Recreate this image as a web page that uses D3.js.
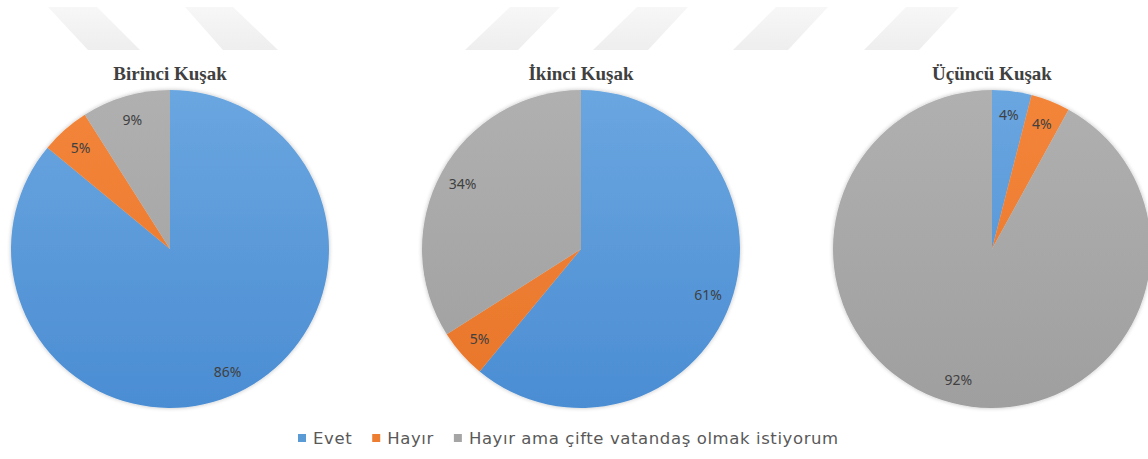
<!DOCTYPE html>
<html>
<head>
<meta charset="utf-8">
<script src="https://cdn.jsdelivr.net/npm/d3@7"></script>
<style>
  html, body { margin: 0; padding: 0; background: #ffffff; }
  svg { display: block; }
</style>
</head>
<body>
<svg id="chart" width="1148" height="459"></svg>
<script>
// ---- Data ----
const categories = ["Evet", "Hayır", "Hayır ama çifte vatandaş olmak istiyorum"];
const pieTitles = ["Birinci Kuşak", "İkinci Kuşak", "Üçüncü Kuşak"];
const birinciValues = [86, 5, 9];
const ikinciValues = [61, 5, 34];
const ucuncuValues = [4, 4, 92];
const seriesValues = [birinciValues, ikinciValues, ucuncuValues];

// ---- Layout ----
const W = 1148, H = 459;
const svg = d3.select("#chart");
const radius = 159;
const centerY = 249;
const centerX = d3.scalePoint().domain(pieTitles).range([170, 992]);

const colors = ["#5b9bd5", "#ed7d31", "#a5a5a5"];
const gradStops = [["#6aa6e0", "#4b8dd3"], ["#f3853a", "#e8762a"], ["#b0b0b0", "#9f9f9f"]];
const color = d3.scaleOrdinal().domain(categories).range(colors);

const defs = svg.append("defs");
categories.forEach((c, i) => {
  const g = defs.append("linearGradient")
    .attr("id", "grad" + i)
    .attr("gradientUnits", "userSpaceOnUse")
    .attr("x1", 0).attr("x2", 0).attr("y1", -radius).attr("y2", radius);
  g.append("stop").attr("offset", "0%").attr("stop-color", gradStops[i][0]);
  g.append("stop").attr("offset", "100%").attr("stop-color", gradStops[i][1]);
});
const wm = defs.append("linearGradient").attr("id", "wmgrad")
  .attr("x1", 0).attr("x2", 0).attr("y1", 0).attr("y2", 1);
wm.append("stop").attr("offset", "0%").attr("stop-color", "#f7f7f7");
wm.append("stop").attr("offset", "100%").attr("stop-color", "#eeeeee");
const sh = defs.append("filter").attr("id", "soft").attr("x", "-10%").attr("y", "-10%").attr("width", "120%").attr("height", "120%");
sh.append("feGaussianBlur").attr("in", "SourceAlpha").attr("stdDeviation", 2).attr("result", "b");
sh.append("feComponentTransfer").attr("in", "b").attr("result", "s")
  .append("feFuncA").attr("type", "linear").attr("slope", 0.25);
const m = sh.append("feMerge");
m.append("feMergeNode").attr("in", "s");
m.append("feMergeNode").attr("in", "SourceGraphic");

// ---- Watermark (background decoration) ----
const wmShapes = [
  [[48, 7], [97, 7], [140, 50], [88, 50]],
  [[185, 7], [233, 7], [278, 50], [223, 50]],
  [[510, 7], [560, 7], [518, 50], [465, 50]],
  [[637, 7], [688, 7], [648, 50], [593, 50]],
  [[776, 7], [828, 7], [788, 50], [733, 50]],
  [[906, 7], [959, 7], [919, 50], [864, 50]]
];
svg.append("g").selectAll("path").data(wmShapes).join("path")
  .attr("d", d => "M" + d.map(p => p.join(",")).join("L") + "Z")
  .attr("fill", "url(#wmgrad)");

// ---- Pies ----
const pie = d3.pie().sort(null).value(d => d);
const arc = d3.arc().innerRadius(0).outerRadius(radius);
const labelArc = d3.arc().innerRadius(radius * 0.85).outerRadius(radius * 0.85);

pieTitles.forEach((title, pi) => {
  const g = svg.append("g").attr("transform", `translate(${centerX(title)},${centerY})`);
  const arcs = pie(seriesValues[pi]);
  g.append("g").attr("filter", "url(#soft)")
    .selectAll("path").data(arcs).join("path")
    .attr("d", arc)
    .attr("fill", (d, i) => `url(#grad${i})`);
  g.selectAll("text.lbl").data(arcs).join("text")
    .attr("class", "lbl")
    .attr("transform", d => `translate(${labelArc.centroid(d)})`)
    .attr("text-anchor", "middle")
    .attr("dominant-baseline", "central")
    .attr("font-family", "'Noto Sans', 'Open Sans', sans-serif")
    .attr("font-size", 14)
    .attr("fill", "#404040")
    .text(d => d.data + "%");
  svg.append("text")
    .attr("x", centerX(title))
    .attr("y", 80)
    .attr("text-anchor", "middle")
    .attr("font-family", "'Liberation Serif', 'Times New Roman', serif")
    .attr("font-weight", "bold")
    .attr("font-size", 19)
    .attr("fill", "#404040")
    .text(title);
});

// ---- Legend ----
const legend = svg.append("g").attr("transform", "translate(298,438)");
let lx = 0;
categories.forEach((c, i) => {
  const lg = legend.append("g").attr("transform", `translate(${lx},0)`);
  lg.append("rect").attr("x", 0).attr("y", -4).attr("width", 8).attr("height", 8).attr("fill", color(c));
  const t = lg.append("text").attr("x", 15).attr("y", 0)
    .attr("dominant-baseline", "central")
    .attr("font-family", "'DejaVu Sans', sans-serif")
    .attr("font-size", 16.5)
    .attr("letter-spacing", 0.6)
    .attr("fill", "#595959")
    .text(c);
  lx += 15 + t.node().getComputedTextLength() + 20;
});
</script>
</body>
</html>
